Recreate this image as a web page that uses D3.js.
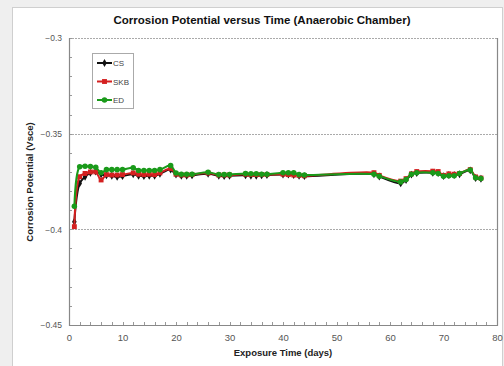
<!DOCTYPE html>
<html>
<head>
<meta charset="utf-8">
<script src="https://cdn.jsdelivr.net/npm/d3@7"></script>
<style>
  body { margin: 0; background: #efefef; }
  svg { display: block; font-family: "Liberation Sans", Arial, sans-serif; }
</style>
</head>
<body>
<div id="chart"></div>
<script>
const days = [1, 2, 3, 4, 5, 6, 7, 8, 9, 10, 12, 13, 14, 15, 16, 17, 19, 20, 21, 22, 23, 26, 28, 29, 30,
  33, 34, 35, 36, 37, 40, 41, 42, 43, 44, 57, 58, 62, 63, 64, 65, 68, 69, 70, 71, 72, 73, 75, 76, 77]

const csValues = [-0.396, -0.376, -0.3725, -0.3705, -0.3698, -0.3712, -0.3718, -0.372, -0.3726, -0.3722,
  -0.3712, -0.372, -0.3722, -0.372, -0.372, -0.371, -0.3688, -0.3714, -0.372, -0.372, -0.3718, -0.371,
  -0.372, -0.3722, -0.372, -0.3718, -0.372, -0.372, -0.3718, -0.3716, -0.3714, -0.3714, -0.3716, -0.372,
  -0.3722, -0.3712, -0.3724, -0.376, -0.3742, -0.3714, -0.3706, -0.3704, -0.3706, -0.3722, -0.3716,
  -0.3716, -0.3712, -0.3692, -0.3732, -0.3736]

const skbValues = [-0.3986, -0.3725, -0.3708, -0.370, -0.370, -0.3742, -0.3714, -0.3716, -0.3716, -0.3714,
  -0.3705, -0.3712, -0.3714, -0.3712, -0.3714, -0.3705, -0.3682, -0.3712, -0.3716, -0.3716, -0.3714,
  -0.3706, -0.3716, -0.3716, -0.3716, -0.3712, -0.3714, -0.3714, -0.3714, -0.3714, -0.3712, -0.3714,
  -0.3716, -0.3718, -0.372, -0.3704, -0.3718, -0.3748, -0.3735, -0.371, -0.3698, -0.3696, -0.3698,
  -0.3718, -0.371, -0.3712, -0.3708, -0.3688, -0.3726, -0.3732]

const edValues = [-0.388, -0.3673, -0.367, -0.3672, -0.3676, -0.3704, -0.3688, -0.3688, -0.3688, -0.3688,
  -0.3678, -0.3692, -0.3692, -0.3692, -0.3692, -0.3688, -0.3667, -0.3705, -0.3712, -0.3712, -0.3712,
  -0.3702, -0.3714, -0.3714, -0.3714, -0.3708, -0.371, -0.371, -0.3712, -0.3712, -0.3704, -0.3704,
  -0.3704, -0.3714, -0.3716, -0.3712, -0.3722, -0.3752, -0.374, -0.3712, -0.3704, -0.3704, -0.3708,
  -0.3722, -0.372, -0.372, -0.3708, -0.369, -0.373, -0.3734]

const seriesNames = ['CS', 'SKB', 'ED']
const seriesColors = ['#111111', '#d42020', '#1a9a1a']
const seriesShapes = [d3.symbolDiamond, d3.symbolSquare, d3.symbolCircle]
const yTicks = [-0.45, -0.4, -0.35, -0.3]
const xTicks = [0, 10, 20, 30, 40, 50, 60, 70, 80]

const series = [csValues, skbValues, edValues].map((vals, i) => ({
  name: seriesNames[i],
  color: seriesColors[i],
  shape: seriesShapes[i],
  points: days.map((d, j) => ({ day: d, v: vals[j] }))
}))

const W = 504, H = 366
const margin = { top: 38, right: 7, bottom: 41, left: 69 }
const width = W - margin.left - margin.right
const height = H - margin.top - margin.bottom

const symSize = s => s === d3.symbolDiamond ? 18 : 24

const svg = d3.select('#chart').append('svg')
  .attr('width', W)
  .attr('height', H)

// panel
svg.append('rect')
  .attr('x', 12.5).attr('y', 7.5)
  .attr('width', 490).attr('height', 370)
  .attr('fill', '#fff')
  .attr('stroke', '#cfcfcf')

svg.append('text')
  .attr('x', 262).attr('y', 24)
  .attr('text-anchor', 'middle')
  .attr('font-size', 11.5)
  .attr('font-weight', 'bold')
  .attr('fill', '#111')
  .text('Corrosion Potential versus  Time (Anaerobic Chamber)')

const g = svg.append('g').attr('transform', `translate(${margin.left},${margin.top})`)

const x = d3.scaleLinear().domain([0, 80]).range([0, width])
const y = d3.scaleLinear().domain([-0.45, -0.3]).range([height, 0])

// dashed gridlines
g.selectAll('.grid')
  .data([-0.4, -0.35, -0.3])
  .enter().append('line')
  .attr('x1', 0).attr('x2', width)
  .attr('y1', d => Math.round(y(d)) + 0.5)
  .attr('y2', d => Math.round(y(d)) + 0.5)
  .attr('stroke', '#aaa')
  .attr('stroke-dasharray', '2,1')

// minor ticks (inside)
const yMinor = d3.range(-0.45, -0.2999, 0.01)
g.selectAll('.ytick')
  .data(yMinor)
  .enter().append('line')
  .attr('x1', 0).attr('x2', 3)
  .attr('y1', d => Math.round(y(d)) + 0.5)
  .attr('y2', d => Math.round(y(d)) + 0.5)
  .attr('stroke', '#999')
const xMinor = d3.range(0, 81, 2)
g.selectAll('.xtick')
  .data(xMinor)
  .enter().append('line')
  .attr('x1', d => Math.round(x(d)) + 0.5)
  .attr('x2', d => Math.round(x(d)) + 0.5)
  .attr('y1', height).attr('y2', height - 3)
  .attr('stroke', '#999')

// axes frame
g.append('path')
  .attr('d', `M0.5,0V${height + 0.5}H${width + 0.5}V0`)
  .attr('fill', 'none')
  .attr('stroke', '#888')
  .attr('stroke-width', 1.2)

// tick labels
const yAxis = d3.axisLeft(y).tickValues(yTicks).tickSize(0).tickPadding(7)
  .tickFormat(d => d3.format('')(+d.toFixed(2)))
g.append('g').call(yAxis)
  .call(s => s.select('.domain').remove())
  .selectAll('text')
  .attr('font-size', 8.5)
  .attr('font-family', '"Liberation Sans", Arial, sans-serif')
  .attr('fill', '#555')

const xAxis = d3.axisBottom(x).tickValues(xTicks).tickSize(0).tickPadding(9)
g.append('g').attr('transform', `translate(0,${height})`).call(xAxis)
  .call(s => s.select('.domain').remove())
  .selectAll('text')
  .attr('font-size', 9.5)
  .attr('font-family', '"Liberation Sans", Arial, sans-serif')
  .attr('fill', '#555')

// axis titles
svg.append('text')
  .attr('x', 283).attr('y', 356)
  .attr('text-anchor', 'middle')
  .attr('font-size', 9.5)
  .attr('font-weight', 'bold')
  .attr('fill', '#222')
  .text('Exposure Time (days)')

svg.append('text')
  .attr('transform', 'translate(33,182) rotate(-90)')
  .attr('text-anchor', 'middle')
  .attr('font-size', 9.5)
  .attr('font-weight', 'bold')
  .attr('fill', '#222')
  .text('Corrosion Potential (Vsce)')

// lines
const line = d3.line()
  .x(d => x(d.day))
  .y(d => y(d.v))
  .curve(d3.curveCatmullRom.alpha(0.5))

const sg = g.selectAll('.series')
  .data(series)
  .enter().append('g')

sg.append('path')
  .attr('d', d => line(d.points))
  .attr('fill', 'none')
  .attr('stroke', d => d.color)
  .attr('stroke-width', 2)

sg.each(function (s) {
  d3.select(this).selectAll('path.pt')
    .data(s.points)
    .enter().append('path')
    .attr('class', 'pt')
    .attr('transform', d => `translate(${x(d.day)},${y(d.v)})`)
    .attr('d', d3.symbol().type(s.shape).size(symSize(s.shape)))
    .attr('fill', s.color)
})

// legend
const legend = svg.append('g').attr('transform', 'translate(92,53)')
legend.append('rect')
  .attr('x', 0.5).attr('y', 0.5)
  .attr('width', 41).attr('height', 55)
  .attr('fill', '#fff')
  .attr('stroke', '#aaa')

const li = legend.selectAll('.li')
  .data(series)
  .enter().append('g')
  .attr('transform', (d, i) => `translate(0,${10 + i * 18.5})`)
li.append('line')
  .attr('x1', 5).attr('x2', 20)
  .attr('stroke', d => d.color)
  .attr('stroke-width', 2)
li.append('path')
  .attr('transform', 'translate(12.5,0)')
  .attr('d', d => d3.symbol().type(d.shape).size(symSize(d.shape))())
  .attr('fill', d => d.color)
li.append('text')
  .attr('x', 21).attr('y', 3)
  .attr('font-size', 8)
  .attr('fill', '#444')
  .text(d => d.name)
</script>
</body>
</html>
